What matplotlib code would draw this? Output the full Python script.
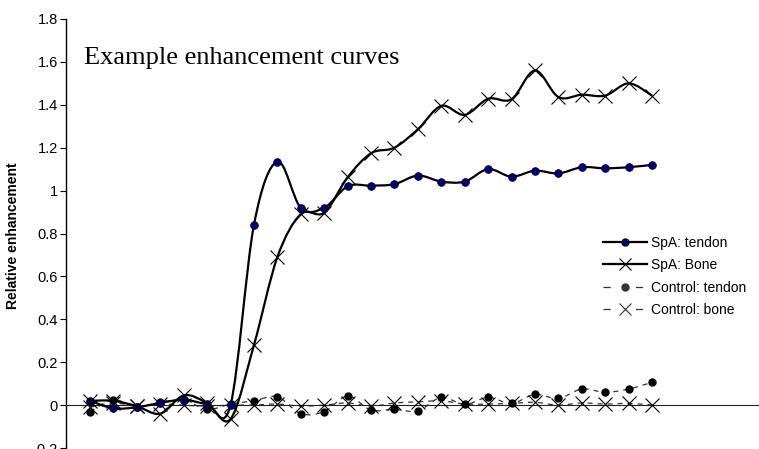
import numpy
import matplotlib
matplotlib.use('Agg')
import matplotlib.pyplot as plt
import matplotlib.patches as patches
from matplotlib.path import Path
from matplotlib.lines import Line2D

# data (25 time points)
punkty = list(range(1, 26))
spa_tendon = [0.02, -0.015, -0.01, 0.01, 0.025, 0.005, 0.0, 0.84, 1.135, 0.92,
              0.92, 1.02, 1.023, 1.03, 1.07, 1.042, 1.042, 1.10, 1.065, 1.093,
              1.08, 1.109, 1.104, 1.109, 1.12]
spa_bone = [0.02, 0.02, -0.005, -0.04, 0.045, 0.01, -0.065, 0.28, 0.69, 0.89,
            0.897, 1.062, 1.174, 1.20, 1.286, 1.395, 1.353, 1.428, 1.426, 1.56,
            1.436, 1.447, 1.443, 1.50, 1.443]
control_tendon = [-0.03, 0.025, -0.008, 0.015, 0.023, -0.02, 0.005, 0.02, 0.039, -0.04,
                  -0.03, 0.042, -0.023, -0.02, -0.027, 0.036, 0.003, 0.036, 0.008, 0.05,
                  0.031, 0.075, 0.06, 0.075, 0.106]
control_bone = [-0.01, 0.01, -0.005, 0.005, 0.0, -0.005, 0.0, 0.0, 0.005, -0.005,
                0.0, 0.01, -0.005, 0.01, 0.015, 0.02, 0.005, 0.005, 0.008, 0.013,
                0.0, 0.01, 0.005, 0.008, 0.0]
etykiety = ['SpA: tendon', 'SpA: Bone', 'Control: tendon', 'Control: bone']
y_ticks = [-0.2, 0.0, 0.2, 0.4, 0.6, 0.8, 1.0, 1.2, 1.4, 1.6, 1.8]
tytul = 'Example enhancement curves'
os_y = 'Relative enhancement'


def gladka_sciezka(xs, ys, t=1.0 / 6):
    # excel-like smoothed line as cubic bezier segments
    p = numpy.column_stack([xs, ys]).astype(float)
    n = len(p)
    verts = [p[0]]
    codes = [Path.MOVETO]
    for i in range(n - 1):
        p0 = p[i - 1] if i > 0 else p[i]
        p1 = p[i]
        p2 = p[i + 1]
        p3 = p[i + 2] if i + 2 < n else p[i + 1]
        c1 = p1 + (p2 - p0) * t
        c2 = p2 - (p3 - p1) * t
        verts += [c1, c2, p2]
        codes += [Path.CURVE4, Path.CURVE4, Path.CURVE4]
    return Path(verts, codes)


plt.rcParams['axes.unicode_minus'] = False
plt.rcParams['font.family'] = ['Liberation Sans', 'DejaVu Sans']

fig = plt.figure(figsize=(7.59, 4.49), dpi=100)
ax = fig.add_axes([66 / 759, 1 / 449, 1 - 66 / 759, 1 - 20 / 449])
ax.set_xlim(1 - 24 / 23.42, 1 + (759 - 90) / 23.42)
ax.set_ylim(-0.2, 1.8)

# lines
ax.add_patch(patches.PathPatch(gladka_sciezka(punkty, control_tendon), fill=False,
                               edgecolor='#333333', lw=0.9, linestyle=(0, (4, 4)), zorder=2))
ax.add_patch(patches.PathPatch(gladka_sciezka(punkty, control_bone), fill=False,
                               edgecolor='#333333', lw=0.9, linestyle=(0, (4, 4)), zorder=2))
ax.add_patch(patches.PathPatch(gladka_sciezka(punkty, spa_tendon), fill=False,
                               edgecolor='black', lw=1.6, zorder=3))
ax.add_patch(patches.PathPatch(gladka_sciezka(punkty, spa_bone), fill=False,
                               edgecolor='black', lw=1.6, zorder=3))

# markers
ax.plot(punkty, control_tendon, 'o', color='black', ms=5, zorder=4)
ax.plot(punkty, control_bone, 'x', color='black', ms=9.5, mew=0.8, zorder=4)
ax.plot(punkty, spa_tendon, 'o', mfc='#000080', mec='black', mew=0.6, ms=5.5, zorder=5)
ax.plot(punkty, spa_bone, 'x', color='black', ms=9.5, mew=0.8, zorder=5)

# axes styling
ax.spines['top'].set_visible(False)
ax.spines['right'].set_visible(False)
ax.spines['bottom'].set_position(('data', 0))
ax.spines['bottom'].set_color('#222222')
ax.spines['left'].set_linewidth(1.0)
ax.set_xticks([])
ax.set_yticks(y_ticks)
ax.set_yticklabels(['%g' % v for v in y_ticks])
ax.tick_params(axis='y', direction='out', length=4, width=0.8, pad=2, labelsize=10.5)

fig.text(13 / 759, 1 - 236 / 449, os_y, rotation=90, ha='center', va='center',
         fontsize=10, fontweight='bold')
fig.text(84 / 759, 1 - 64 / 449, tytul, family='Liberation Serif', fontsize=19,
         va='baseline', ha='left')

# legend
kreski = (0, (5.8, 20.1))
uchwyty = [
    Line2D([], [], color='black', lw=1.6, marker='o', mfc='#000080', mec='black', ms=5),
    Line2D([], [], color='black', lw=1.6, marker='x', ms=8, mew=0.8),
    Line2D([], [], color='#333333', lw=0.9, linestyle=kreski, marker='o', ms=5),
    Line2D([], [], color='#333333', lw=0.9, linestyle=kreski, marker='x', ms=8, mew=0.8),
]
fig.legend(uchwyty, etykiety, loc='upper left', bbox_to_anchor=(603 / 759, 1 - 236 / 449),
           frameon=False, fontsize=10, handlelength=3.17, handletextpad=0.3,
           labelspacing=0.6, borderpad=0, borderaxespad=0)

plt.savefig('out.png', dpi=100)
